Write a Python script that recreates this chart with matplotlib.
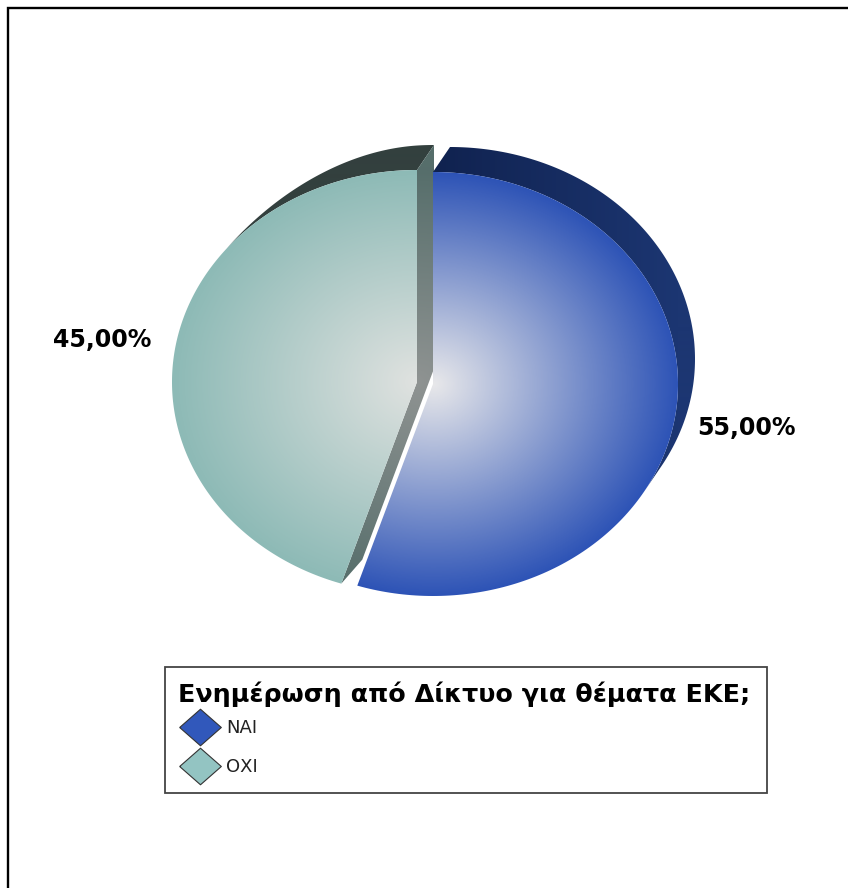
import numpy as np
import matplotlib
matplotlib.use("Agg")
import matplotlib.pyplot as plt
from matplotlib.colors import LinearSegmentedColormap
from matplotlib.patches import Polygon, Rectangle

plt.rcParams['font.family'] = ['DejaVu Sans']

# -------- Data --------
categories = ["ΝΑΙ", "ΟΧΙ"]
shares = [55.0, 45.0]
value_labels = ["55,00%", "45,00%"]
legend_title = "Ενημέρωση από Δίκτυο για θέματα ΕΚΕ;"

# -------- Styles (pixel coordinates of the picture) --------
RX, RY = 245, 212
centers = [(433, 384), (417, 382)]
depth = (17, -25)
side_depth = (21, -24)
face_in = ["#e8e8ea", "#e0e2e0"]
face_out = ["#2d53b6", "#8dbab6"]
side_in, side_out = "#8f9392", "#566e6b"
label_pos = [(746, 428), (102, 340)]
legend_colors = ["#3158bb", "#93c4c2"]

fig = plt.figure(figsize=(8.48, 8.88), dpi=100)
ax = fig.add_axes([0, 0, 1, 1])
ax.set_xlim(0, 848)
ax.set_ylim(888, 0)
ax.axis("off")

xx, yy = np.meshgrid(np.arange(0, 848), np.arange(0, 888))


def arc_points(c, a0, a1, n=200):
    # angles are clockwise from the top, in degrees
    t = np.radians(np.linspace(a0, a1, n))
    return np.column_stack([c[0] + RX * np.sin(t), c[1] - RY * np.cos(t)])


def fill(values, inner, outer, clip):
    cmap = LinearSegmentedColormap.from_list("r", [inner, outer])
    im = ax.imshow(values, cmap=cmap, vmin=0, vmax=1, extent=(0, 848, 888, 0),
                   interpolation="bilinear", zorder=clip.get_zorder())
    im.set_clip_path(clip)


def radial(c):
    return np.sqrt(((xx - c[0]) / RX) ** 2 + ((yy - c[1]) / RY) ** 2)


def shape(pts, z):
    p = Polygon(pts, closed=True, fc="none", ec="none", zorder=z)
    ax.add_patch(p)
    return p


def rim_band(c, a0, a1, z, taper=None):
    # outer wall: back arc, then the front arc on the way home
    front = arc_points(c, a0, a1)
    s = np.ones(len(front))
    if taper:
        s = np.sin(np.pi / 2 * np.clip(np.linspace(0, a1 - a0, len(front)) / taper, 0, 1))
    back = front + np.column_stack([depth[0] * s, depth[1] * s])
    return shape(np.vstack([back, front[::-1]]), z)


# slice angles from the shares
ends = np.cumsum(shares) / sum(shares) * 360
starts = np.concatenate([[0], ends[:-1]])
a0_blue, a1_blue = starts[0], ends[0]
a0_teal, a1_teal = starts[1], ends[1]

# OXI slice
c = centers[1]
fill(np.zeros_like(xx, dtype=float), "#33403e", "#33403e", rim_band(c, 309, a1_teal, 2, taper=48))
p0 = arc_points(c, a0_teal, a0_teal, 1)[0]
p1 = arc_points(c, a1_teal, a1_teal, 1)[0]
side = shape([p1, (p1[0] + depth[0], p1[1] + depth[1]),
              (c[0] + depth[0], c[1] + depth[1]),
              (c[0] + side_depth[0], c[1] + side_depth[1]),
              (p0[0] + side_depth[0], p0[1] + side_depth[1]), p0, c], 3)
fill(radial(c), side_in, side_out, side)
fill(radial(c), face_in[1], face_out[1],
     shape(np.vstack([[c], arc_points(c, a0_teal, a1_teal)]), 4))

# NAI slice
c = centers[0]
fill((xx - c[0]) / RX, "#10224f", "#1c3672", rim_band(c, a0_blue, 120.4, 5))
fill(radial(c), face_in[0], face_out[0],
     shape(np.vstack([[c], arc_points(c, a0_blue, a1_blue)]), 6))

ax.set_xlim(0, 848)
ax.set_ylim(888, 0)

# value labels
for pos, txt in zip(label_pos, value_labels):
    ax.text(pos[0], pos[1], txt, ha="center", va="center", fontsize=17, fontweight="bold", color="black", zorder=8)

# legend box
ax.add_patch(Rectangle((165, 667), 602, 126, fc="white", ec="#444444", lw=1.3, zorder=7))
ax.text(178, 694, legend_title, ha="left", va="center", fontsize=18.3, fontweight="bold", color="black", zorder=8)
diamond = [(-1.14, 0), (0, 1), (1.14, 0), (0, -1), (-1.14, 0)]
for ypos, name, col in zip([727, 766], categories, legend_colors):
    ax.plot([199.5], [ypos], marker=diamond, ms=30, mfc=col, mec="#333333", mew=0.8, ls="none", zorder=8)
    ax.text(226, ypos + 1, name, ha="left", va="center", fontsize=13, color="#222222", zorder=8)

# picture frame: only left and top lines
ax.plot([8, 8, 848], [888, 8, 8], color="black", lw=1.7, zorder=9, solid_joinstyle="miter")

fig.savefig("out.png", dpi=100, facecolor="white")
